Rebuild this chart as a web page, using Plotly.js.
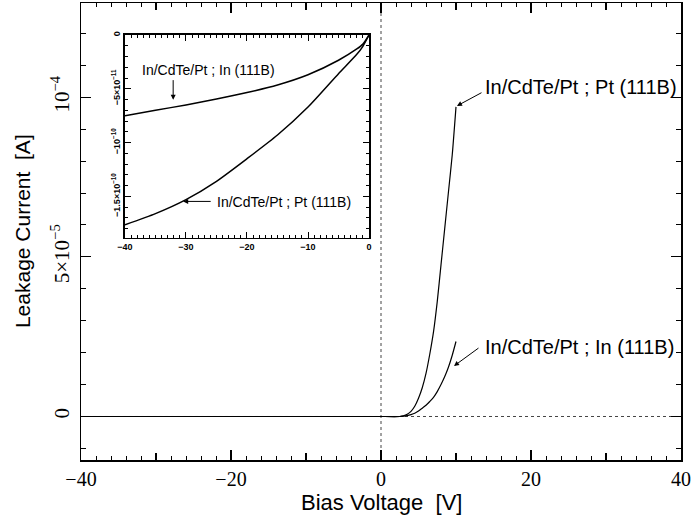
<!DOCTYPE html>
<html>
<head>
<meta charset="utf-8">
<script src="https://cdn.plot.ly/plotly-3.0.1.min.js"></script>
<style>html,body{margin:0;padding:0;background:#fff}#chart{width:694px;height:517px}</style>
</head>
<body>
<div id="chart"></div>
<script>
// Reverse-bias data (inset), volts and amperes
const revVolt = [-40, -35, -30, -25, -20, -15, -10, -5, -2, -1, 0];
const revPt   = [-1.764e-10, -1.66e-10, -1.53e-10, -1.36e-10, -1.15e-10, -9.3e-11, -6.7e-11, -3.6e-11, -1.8e-11, -1.05e-11, 0];
const revIn   = [-7.5e-11, -7.0e-11, -6.5e-11, -5.95e-11, -5.35e-11, -4.65e-11, -3.7e-11, -2.35e-11, -1.3e-11, -8.5e-12, 0];

// Forward-bias data (main plot)
const fwdVolt = [2.5, 3, 3.5, 4, 4.5, 5, 5.5, 6, 6.5, 7, 7.5, 8, 8.5, 9, 9.5, 10];
const fwdPt   = [0, 2e-7, 7e-7, 1.6e-6, 3.2e-6, 5.7e-6, 9e-6, 1.35e-5, 1.95e-5, 2.65e-5, 3.6e-5, 4.75e-5, 5.9e-5, 7.05e-5, 8.2e-5, 9.7e-5];
const fwdIn   = [0, 1e-7, 3e-7, 6e-7, 1e-6, 1.7e-6, 2.6e-6, 3.5e-6, 4.7e-6, 6e-6, 7.8e-6, 1.0e-5, 1.25e-5, 1.55e-5, 1.92e-5, 2.35e-5];

// Tick labels
const mainXTicks = [-40, -20, 0, 20, 40];
const mainXText  = ['\u221240', '\u221220', '0', '20', '40'];
const mainXMid   = [-30, -10, 10, 30];
const mainYTicks = [0, 5e-5, 1e-4];
const mainYText  = ['0', '5\u00d710<sup>\u22125</sup>', '10<sup>\u22124</sup>'];
const insetXTicks = [-40, -30, -20, -10, 0];
const insetXText  = ['\u221240', '\u221230', '\u221220', '\u221210', '0'];
const insetYTicks = [0, -5e-11, -1e-10, -1.5e-10];
const insetYText  = ['0', '\u22125\u00d710<sup>\u221211</sup>', '\u221210<sup>\u221210</sup>', '\u22121.5\u00d710<sup>\u221210</sup>'];

const labelPt = 'In/CdTe/Pt ; Pt (111B)';
const labelIn = 'In/CdTe/Pt ; In (111B)';

const mainV = revVolt.concat(fwdVolt);
const mainPt = revPt.concat(fwdPt);
const mainIn = revIn.concat(fwdIn);

const lineMain = {color: '#000', width: 1.2, shape: 'spline', smoothing: 0.6};
const lineInset = {color: '#000', width: 1.5, shape: 'spline', smoothing: 0.6};

const traces = [
  {x: mainV, y: mainPt, type: 'scatter', mode: 'lines', line: lineMain, xaxis: 'x', yaxis: 'y', hoverinfo: 'skip'},
  {x: mainV, y: mainIn, type: 'scatter', mode: 'lines', line: lineMain, xaxis: 'x', yaxis: 'y', hoverinfo: 'skip'},
  {x: revVolt, y: revPt, type: 'scatter', mode: 'lines', line: lineInset, xaxis: 'x2', yaxis: 'y2', hoverinfo: 'skip'},
  {x: revVolt, y: revIn, type: 'scatter', mode: 'lines', line: lineInset, xaxis: 'x2', yaxis: 'y2', hoverinfo: 'skip'},
  {x: [], y: [], xaxis: 'x3', yaxis: 'y', hoverinfo: 'skip'}
];

const insetFont = {family: 'Liberation Sans', size: 9, color: '#000', weight: 'bold'};

const layout = {
  width: 694, height: 517,
  margin: {l: 81, r: 13, t: 3, b: 57},
  paper_bgcolor: '#fff', plot_bgcolor: '#fff',
  showlegend: false,
  xaxis: {
    domain: [0, 1], range: [-40, 40], tickmode: 'array', tickvals: mainXTicks, ticktext: mainXText,
    ticks: 'inside', ticklen: 10, tickwidth: 1.2, tickcolor: '#000', mirror: 'ticks',
    showline: true, linecolor: '#000', linewidth: 1.5, showgrid: false, zeroline: false,
    tickfont: {family: 'Liberation Serif', size: 20, color: '#000'}, ticklabelstandoff: 0,
    minor: {dtick: 2, tick0: 0, ticks: 'inside', ticklen: 4, tickwidth: 1, tickcolor: '#000', showgrid: false}
  },
  xaxis3: {
    overlaying: 'x', anchor: 'y', range: [-40, 40], tickmode: 'array', tickvals: mainXMid,
    ticks: 'inside', ticklen: 7, tickwidth: 1.2, tickcolor: '#000', mirror: 'ticks',
    showticklabels: false, showgrid: false, zeroline: false, showline: false
  },
  yaxis: {
    domain: [0, 1], range: [-1.363e-5, 1.2954e-4], tickmode: 'array', tickvals: mainYTicks, ticktext: mainYText,
    ticks: 'inside', ticklen: 10, tickwidth: 1.2, tickcolor: '#000', mirror: 'ticks', tickangle: -90,
    showline: true, linecolor: '#000', linewidth: 1.5, showgrid: false, zeroline: false,
    tickfont: {family: 'Liberation Serif', size: 21, color: '#000'}, ticklabelstandoff: 2,
    minor: {dtick: 1e-5, tick0: 0, ticks: 'inside', ticklen: 5, tickwidth: 1, tickcolor: '#000', showgrid: false}
  },
  xaxis2: {
    domain: [0.0733, 0.48], anchor: 'y2', range: [-40, 0], tickmode: 'array', tickvals: insetXTicks, ticktext: insetXText,
    ticks: 'inside', ticklen: 6, tickwidth: 1, tickcolor: '#000', mirror: 'ticks',
    showline: true, linecolor: '#000', linewidth: 1.5, showgrid: false, zeroline: false,
    tickfont: insetFont, ticklabelstandoff: 0,
    minor: {dtick: 1, tick0: 0, ticks: 'inside', ticklen: 3, tickwidth: 1, tickcolor: '#000', showgrid: false}
  },
  yaxis2: {
    domain: [0.4858, 0.93], anchor: 'x2', range: [-1.887e-10, 0], tickmode: 'array', tickvals: insetYTicks, ticktext: insetYText,
    ticks: 'inside', ticklen: 6, tickwidth: 1, tickcolor: '#000', mirror: 'ticks', tickangle: -90,
    showline: true, linecolor: '#000', linewidth: 1.5, showgrid: false, zeroline: false,
    tickfont: insetFont, ticklabelstandoff: 0,
    minor: {dtick: 1e-11, tick0: 0, ticks: 'inside', ticklen: 3, tickwidth: 1, tickcolor: '#000', showgrid: false}
  },
  shapes: [
    {type: 'line', xref: 'x', yref: 'paper', x0: 0, x1: 0, y0: 0, y1: 1, line: {color: '#444', width: 1, dash: 'dot'}, layer: 'below'},
    {type: 'line', xref: 'paper', yref: 'y', x0: 0, x1: 1, y0: 0, y1: 0, line: {color: '#444', width: 1, dash: 'dot'}, layer: 'below'}
  ],
  annotations: [
    {xref: 'paper', yref: 'paper', x: 0.5, y: -0.092, xanchor: 'center', yanchor: 'middle', showarrow: false,
     text: 'Bias Voltage\u00a0 [V]', font: {family: 'Liberation Sans', size: 22, color: '#000'}},
    {xref: 'paper', yref: 'paper', x: -0.0983, y: 0.501, xanchor: 'center', yanchor: 'middle', showarrow: false, textangle: -90,
     text: 'Leakage Current\u00a0 [A]', font: {family: 'Liberation Sans', size: 21, color: '#000'}},
    {xref: 'x', yref: 'y', x: 13.6, y: 1.032e-4, xanchor: 'left', yanchor: 'middle', showarrow: false,
     text: labelPt, font: {family: 'Liberation Sans', size: 20, color: '#000'}},
    {xref: 'x', yref: 'y', x: 13.6, y: 2.18e-5, xanchor: 'left', yanchor: 'middle', showarrow: false,
     text: labelIn, font: {family: 'Liberation Sans', size: 20, color: '#000'}},
    {xref: 'x', yref: 'y', x: 10.13, y: 9.73e-5, ax: 26, ay: -14, text: '', showarrow: true,
     arrowhead: 2, arrowsize: 1, arrowwidth: 1, arrowcolor: '#000'},
    {xref: 'x', yref: 'y', x: 9.73, y: 1.582e-5, ax: 26, ay: -19, text: '', showarrow: true,
     arrowhead: 2, arrowsize: 1, arrowwidth: 1, arrowcolor: '#000'},
    {xref: 'x2', yref: 'y2', x: -37.53, y: -3.225e-11, xanchor: 'left', yanchor: 'middle', showarrow: false,
     text: labelIn, font: {family: 'Liberation Sans', size: 14, color: '#000'}},
    {xref: 'x2', yref: 'y2', x: -25.2, y: -1.556e-10, xanchor: 'left', yanchor: 'middle', showarrow: false,
     text: labelPt, font: {family: 'Liberation Sans', size: 14, color: '#000'}},
    {xref: 'x2', yref: 'y2', x: -32.1, y: -6.01e-11, ax: 0, ay: -21, text: '', showarrow: true,
     arrowhead: 2, arrowsize: 1, arrowwidth: 1, arrowcolor: '#000'},
    {xref: 'x2', yref: 'y2', x: -30.46, y: -1.547e-10, ax: 29, ay: 0, text: '', showarrow: true,
     arrowhead: 2, arrowsize: 1, arrowwidth: 1, arrowcolor: '#000'}
  ]
};

Plotly.newPlot('chart', traces, layout, {staticPlot: true, displayModeBar: false});
</script>
</body>
</html>
